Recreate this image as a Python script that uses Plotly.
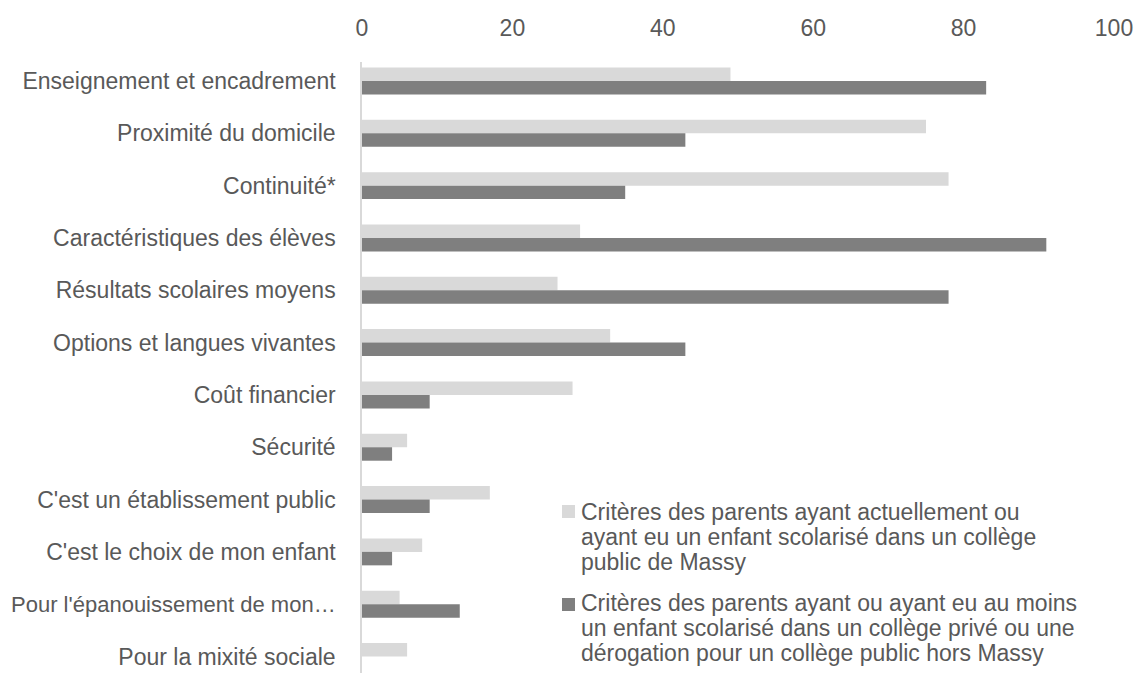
import plotly.graph_objects as go

categories = [
    "Enseignement et encadrement",
    "Proximité du domicile",
    "Continuité*",
    "Caractéristiques des élèves",
    "Résultats scolaires moyens",
    "Options et langues vivantes",
    "Coût financier",
    "Sécurité",
    "C'est un établissement public",
    "C'est le choix de mon enfant",
    "Pour l'épanouissement de mon…",
    "Pour la mixité sociale",
]
public_values = [49, 75, 78, 29, 26, 33, 28, 6, 17, 8, 5, 6]
prive_values = [83, 43, 35, 91, 78, 43, 9, 4, 9, 4, 13, 0]

legend_public = ["Critères des parents ayant actuellement ou",
                 "ayant eu un enfant scolarisé dans un collège",
                 "public de Massy"]
legend_prive = ["Critères des parents ayant ou ayant eu au moins",
                "un enfant scolarisé dans un collège privé ou une",
                "dérogation pour un collège public hors Massy"]

x_ticks = [0, 20, 40, 60, 80, 100]

C_LIGHT = "#d9d9d9"
C_DARK = "#7f7f7f"
TXT = "#595959"
FONT = "Liberation Sans, Arial, sans-serif"
FS = 23

W, H = 1137, 673
ML, MR, MT, MB = 362, 23, 62, 0
PW, PH = W - ML - MR, H - MT - MB

def px_x(x):
    return (x - ML) / PW

def px_y(y):
    return (H - MB - y) / PH

# the truncated label ("…") is drawn slightly smaller so it fits in the canvas
tick_text = ['<span style="font-size:22px">' + c + '</span>' if c.endswith("…") else c
             for c in categories]

fig = go.Figure()
fig.add_trace(go.Bar(y=categories, x=public_values, orientation="h",
                     name=" ".join(legend_public),
                     marker=dict(color=C_LIGHT, line=dict(width=0))))
fig.add_trace(go.Bar(y=categories, x=prive_values, orientation="h",
                     name=" ".join(legend_prive),
                     marker=dict(color=C_DARK, line=dict(width=0))))

annotations = []
shapes = []
for lines, y0, sq_y, col in [(legend_public, 512, 511.5, C_LIGHT),
                             (legend_prive, 603, 604.5, C_DARK)]:
    for i, ln in enumerate(lines):
        annotations.append(dict(text=ln, xref="paper", yref="paper",
                                x=px_x(579), y=px_y(y0 + i * 25),
                                xanchor="left", yanchor="middle", showarrow=False,
                                font=dict(family=FONT, size=FS, color=TXT)))
    shapes.append(dict(type="rect", xref="paper", yref="paper",
                       x0=px_x(562), x1=px_x(575), y0=px_y(sq_y - 6.5), y1=px_y(sq_y + 6.5),
                       fillcolor=col, line=dict(width=0)))

fig.update_layout(
    width=W, height=H,
    margin=dict(l=ML, r=MR, t=MT, b=MB),
    paper_bgcolor="white", plot_bgcolor="white",
    barmode="group", bargap=0.485, bargroupgap=0.0,
    font=dict(family=FONT, size=FS, color=TXT),
    showlegend=False,
    xaxis=dict(range=[0, 100], side="top", tickvals=x_ticks, showgrid=False,
               zeroline=False, showline=False, ticks="", ticklabelstandoff=20,
               automargin=False, tickfont=dict(size=FS, color=TXT)),
    yaxis=dict(type="category", range=[11.315, -0.363], showgrid=False,
               showline=True, linecolor=C_LIGHT, linewidth=1.5, ticks="",
               tickmode="array", tickvals=categories, ticktext=tick_text,
               ticklabelstandoff=20, automargin=False,
               tickfont=dict(size=FS, color=TXT)),
    annotations=annotations,
    shapes=shapes,
)
fig.write_html("out.html", config={"displayModeBar": False},
               post_script="document.body.style.margin='0';")
